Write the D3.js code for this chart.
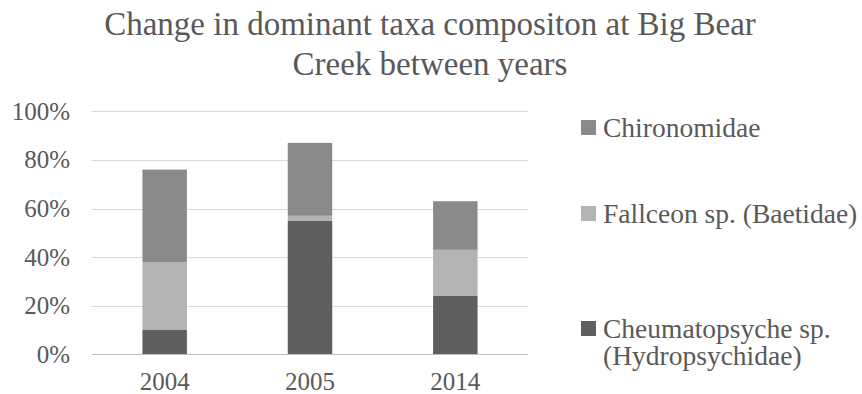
<html>
<head>
<style>
  body{margin:0;background:#fff}
  svg text{font-family:"Liberation Serif",serif;fill:#595959}
  .grid line{stroke:#d9d9d9;stroke-width:1px}
  .base{stroke:#bfbfbf;stroke-width:1px}
</style>
</head>
<body>
<div id="chart"></div>
<script src="https://cdn.jsdelivr.net/npm/d3@7"></script>
<script>
var years   = ['2004', '2005', '2014'];
var taxa    = ['Cheumatopsyche sp. (Hydropsychidae)', 'Fallceon sp. (Baetidae)', 'Chironomidae'];
var cheum   = [0.10, 0.55, 0.24];
var fallc   = [0.28, 0.02, 0.19];
var chiro   = [0.38, 0.30, 0.20];
var yTicks  = [0, 0.2, 0.4, 0.6, 0.8, 1.0];
var titleLines = ['Change in dominant taxa compositon at Big Bear', 'Creek between years'];

(function () {
  var width = 862, height = 394;
  var left = 92, right = 528, top = 111.3, bottom = 354.3;
  var colors = ['#5f5f5f', '#b3b3b3', '#8a8a8a'];

  var rows = years.map(function (y, i) {
    var r = {year: y};
    r[taxa[0]] = cheum[i];
    r[taxa[1]] = fallc[i];
    r[taxa[2]] = chiro[i];
    return r;
  });
  var series = d3.stack().keys(taxa)(rows);

  var x = d3.scaleBand().domain(years).range([left, right]).paddingInner(0.694).paddingOuter(0.347);
  var y = d3.scaleLinear().domain([0, 1]).range([bottom, top]);
  var color = d3.scaleOrdinal().domain(taxa).range(colors);

  var svg = d3.select('#chart').append('svg')
    .attr('width', width).attr('height', height);

  // title
  svg.append('text')
    .attr('text-anchor', 'middle')
    .style('font-size', '33px')
    .selectAll('tspan').data(titleLines).enter().append('tspan')
    .attr('x', 430)
    .attr('y', function (d, i) { return 34.5 + i * 40; })
    .text(function (d) { return d; });

  // gridlines
  svg.append('g').attr('class', 'grid')
    .selectAll('line').data(yTicks.slice(1)).enter().append('line')
    .attr('x1', left).attr('x2', right)
    .attr('y1', function (d) { return Math.round(y(d)) + 0.5; })
    .attr('y2', function (d) { return Math.round(y(d)) + 0.5; });

  // y labels
  svg.append('g').selectAll('text').data(yTicks).enter().append('text')
    .attr('x', 70)
    .attr('y', function (d) { return y(d) + 8.5; })
    .attr('text-anchor', 'end')
    .style('font-size', '25px')
    .text(d3.format('.0%'));

  // bars
  svg.append('g').selectAll('g').data(series).enter().append('g')
    .attr('fill', function (d) { return color(d.key); })
    .selectAll('rect').data(function (d) { return d; }).enter().append('rect')
    .attr('x', function (d) { return x(d.data.year); })
    .attr('width', x.bandwidth())
    .attr('y', function (d) { return y(d[1]); })
    .attr('height', function (d) { return y(d[0]) - y(d[1]); });

  // baseline
  svg.append('line').attr('class', 'base')
    .attr('x1', left).attr('x2', right)
    .attr('y1', Math.round(y(0)) + 0.5).attr('y2', Math.round(y(0)) + 0.5);

  // x labels
  svg.append('g').selectAll('text').data(years).enter().append('text')
    .attr('x', function (d) { return x(d) + x.bandwidth() / 2; })
    .attr('y', 390)
    .attr('text-anchor', 'middle')
    .style('font-size', '25px')
    .text(function (d) { return d; });

  // legend (top to bottom: reversed stack order)
  var legendY = [137, 223, 338];
  var legendLines = [['Chironomidae'], ['Fallceon sp. (Baetidae)'], ['Cheumatopsyche sp.', '(Hydropsychidae)']];
  var leg = svg.append('g').selectAll('g').data(taxa.slice().reverse()).enter().append('g');
  leg.append('rect')
    .attr('x', 581).attr('width', 15).attr('height', 15)
    .attr('y', function (d, i) { return legendY[i] - 17; })
    .attr('fill', function (d) { return color(d); });
  leg.append('text')
    .style('font-size', '27.5px')
    .each(function (d, i) {
      d3.select(this).selectAll('tspan').data(legendLines[i]).enter().append('tspan')
        .attr('x', 603)
        .attr('y', function (t, j) { return legendY[i] + j * 27; })
        .text(function (t) { return t; });
    });
})();
</script>
</body>
</html>
